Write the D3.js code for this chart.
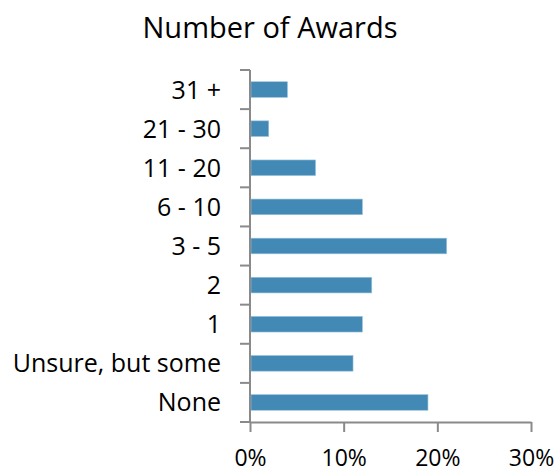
<!DOCTYPE html>
<html>
<head>
<meta charset="utf-8">
<script src="https://cdn.jsdelivr.net/npm/d3@7"></script>
<style>
  html, body { margin: 0; padding: 0; background: #fff; }
  svg { display: block; }
  text { font-family: "Open Sans", "Lato", sans-serif; fill: #000; }
</style>
</head>
<body>
<svg id="chart" width="559" height="473"></svg>
<script>
// Share of respondents by number of awards received
const categories = ["31 +", "21 - 30", "11 - 20", "6 - 10", "3 - 5", "2", "1", "Unsure, but some", "None"];
const shares = [4, 2, 7, 12, 21, 13, 12, 11, 19];
const xTicks = [0, 10, 20, 30];
const chartTitle = "Number of Awards";

const svg = d3.select("#chart");
const plot = { left: 250, right: 531, top: 70, bottom: 422 };

const x = d3.scaleLinear().domain([0, 30]).range([plot.left, plot.right]);
const y = d3.scaleBand().domain(categories).range([plot.top, plot.bottom]).paddingInner(0.6).paddingOuter(0.3);
const band = d3.scaleBand().domain(categories).range([plot.top, plot.bottom]);

const axisColor = "#8a8a8a";

svg.append("text")
  .attr("x", 270).attr("y", 38)
  .attr("text-anchor", "middle")
  .style("font-size", "29px")
  .text(chartTitle);

// bars
svg.append("g").selectAll("rect")
  .data(categories.map((c, i) => ({ c, v: shares[i] })))
  .join("rect")
  .attr("x", x(0) + 1)
  .attr("y", d => y(d.c))
  .attr("width", d => x(d.v) - x(0) - 1)
  .attr("height", y.bandwidth())
  .attr("fill", "#4289b5")
  .attr("stroke", "#9cc3dc")
  .attr("stroke-width", 0.6);

// category axis: line with ticks on band boundaries
const yAxis = svg.append("g");
yAxis.append("line")
  .attr("x1", plot.left).attr("x2", plot.left)
  .attr("y1", plot.top).attr("y2", plot.bottom + 1)
  .attr("stroke", axisColor).attr("stroke-width", 2);
const boundaries = categories.map(c => band(c)).concat([plot.bottom]);
yAxis.selectAll("line.tick")
  .data(boundaries)
  .join("line").attr("class", "tick")
  .attr("x1", plot.left - 10).attr("x2", plot.left)
  .attr("y1", d => d).attr("y2", d => d)
  .attr("stroke", axisColor).attr("stroke-width", 2);
yAxis.selectAll("text")
  .data(categories)
  .join("text")
  .attr("x", 221)
  .attr("y", d => band(d) + band.bandwidth() / 2)
  .attr("dy", "0.36em")
  .attr("text-anchor", "end")
  .style("font-size", "25px")
  .text(d => d);

// value axis
const xAxis = svg.append("g")
  .attr("transform", `translate(0,${plot.bottom})`)
  .call(d3.axisBottom(x).tickValues(xTicks).tickFormat(d => d + "%").tickSize(10).tickSizeOuter(0));
xAxis.select(".domain").attr("stroke", axisColor).attr("stroke-width", 2);
xAxis.selectAll(".tick line").attr("stroke", axisColor).attr("stroke-width", 2);
xAxis.selectAll(".tick text")
  .attr("y", 44)
  .attr("dy", "0")
  .style("font-size", "23px")
  .style("font-family", "'Open Sans', Lato, sans-serif")
  .attr("fill", "#000");
</script>
</body>
</html>
